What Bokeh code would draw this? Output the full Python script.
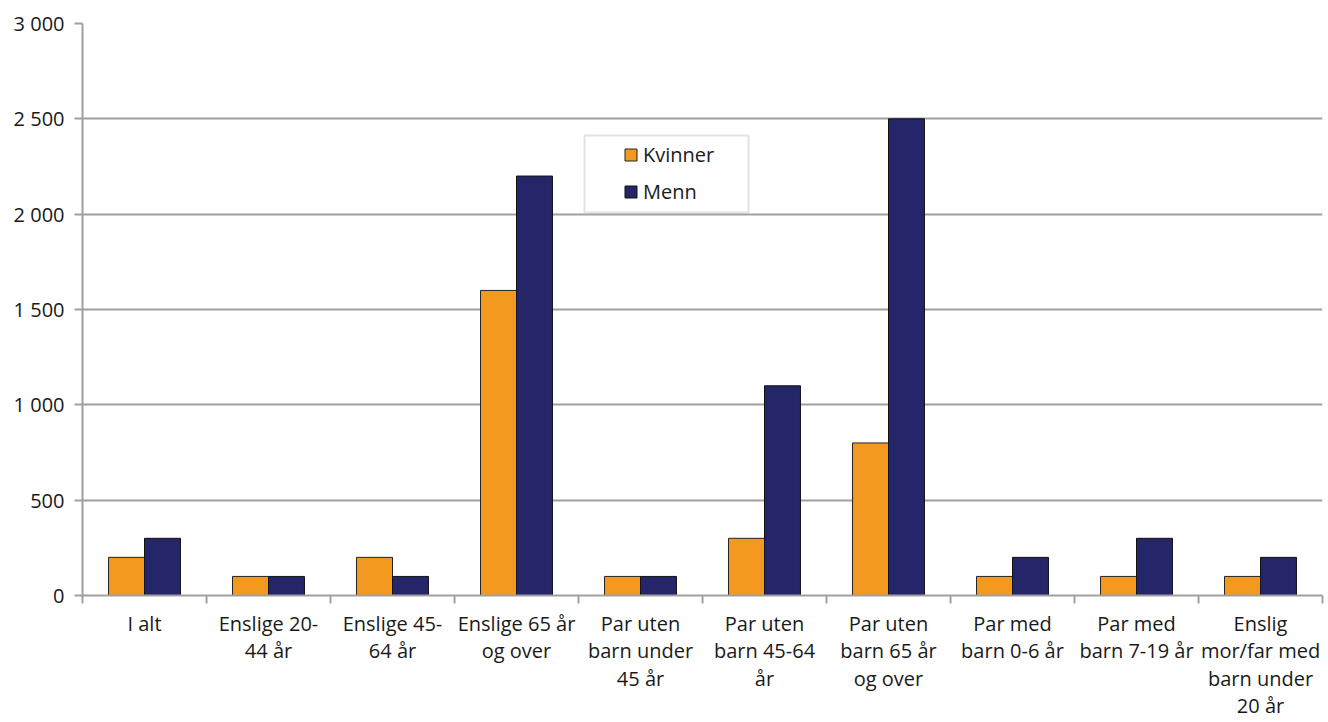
import numpy as np
from bokeh.plotting import figure
from bokeh.models import (Range1d, FixedTicker, Legend, LegendItem,
                          ColumnDataSource, BoxAnnotation)
from bokeh.transform import dodge
from bokeh.embed import file_html
from bokeh.resources import INLINE

# ---- data ----
categories = ["I alt", "Enslige 20-\n44 år", "Enslige 45-\n64 år",
              "Enslige 65 år\nog over", "Par uten\nbarn under\n45 år",
              "Par uten\nbarn 45-64\når", "Par uten\nbarn 65 år\nog over",
              "Par med\nbarn 0-6 år", "Par med\nbarn 7-19 år",
              "Enslig\nmor/far med\nbarn under\n20 år"]
kvinner = [200, 100, 200, 1600, 100, 300, 800, 100, 100, 100]
menn = [300, 100, 100, 2200, 100, 1100, 2500, 200, 300, 200]
series_names = ["Kvinner", "Menn"]
y_ticks = [0, 500, 1000, 1500, 2000, 2500, 3000]
y_tick_labels = ["0", "500", "1 000", "1 500", "2 000", "2 500", "3 000"]

# ---- styles ----
FONT = "Open Sans"
FS = "20px"
TXT = "#1a1a1a"
GRAY = "#a0a0a0"
colors = ["#f4991f", "#25256a"]
bar_w = 0.29

n = len(categories)
centers = np.arange(n) + 0.5
boundaries = list(np.arange(n + 1).astype(float))

src = ColumnDataSource(dict(x=centers, kvinner=kvinner, menn=menn))

p = figure(width=1324, height=722, output_backend="svg", toolbar_location=None,
           x_range=Range1d(0, n), y_range=Range1d(0, 3000),
           min_border_left=82, min_border_right=2, min_border_top=23,
           min_border_bottom=125)
p.outline_line_color = None
p.background_fill_color = "white"

r1 = p.vbar(x=dodge("x", -bar_w / 2), top="kvinner", width=bar_w, source=src,
            fill_color=colors[0], line_color="#222222", line_width=1)
r2 = p.vbar(x=dodge("x", bar_w / 2), top="menn", width=bar_w, source=src,
            fill_color=colors[1], line_color="#111111", line_width=1)

# x axis
xa = p.xaxis[0]
xa.ticker = FixedTicker(ticks=list(centers), minor_ticks=boundaries)
xa.major_label_overrides = {float(c): lab for c, lab in zip(centers, categories)}
xa.major_tick_out = 0
xa.major_tick_in = 0
xa.minor_tick_out = 8
xa.minor_tick_in = 0
xa.minor_tick_line_color = GRAY
xa.minor_tick_line_width = 2
xa.axis_line_color = GRAY
xa.axis_line_width = 2
xa.major_label_text_font = FONT
xa.major_label_text_font_size = FS
xa.major_label_text_color = TXT
xa.major_label_text_line_height = 1.02
xa.major_label_standoff = 6

# y axis
ya = p.yaxis[0]
ya.ticker = FixedTicker(ticks=y_ticks)
ya.major_label_overrides = {t: lab for t, lab in zip(y_ticks, y_tick_labels)}
ya.minor_tick_line_color = None
ya.major_tick_out = 8
ya.major_tick_in = 0
ya.major_tick_line_color = GRAY
ya.major_tick_line_width = 2
ya.axis_line_color = GRAY
ya.axis_line_width = 2
ya.major_label_text_font = FONT
ya.major_label_text_font_size = FS
ya.major_label_text_color = TXT
ya.major_label_standoff = 10

p.xgrid.grid_line_color = None
p.ygrid.ticker = FixedTicker(ticks=y_ticks)
p.ygrid.grid_line_color = GRAY
p.ygrid.grid_line_width = 2

# legend box and legend
box = BoxAnnotation(left=584, right=748, top=135, bottom=212,
                    left_units="canvas", right_units="canvas",
                    top_units="canvas", bottom_units="canvas",
                    fill_color="white", fill_alpha=1.0,
                    line_color=GRAY, line_width=2)
p.add_layout(box)

legend = Legend(items=[LegendItem(label=series_names[0], renderers=[r1]),
                       LegendItem(label=series_names[1], renderers=[r2])],
                location=(541, 390), margin=0, padding=0,
                border_line_color=None, background_fill_alpha=0,
                glyph_width=15, glyph_height=15, label_height=20,
                spacing=10, label_standoff=5,
                label_text_font=FONT, label_text_font_size=FS,
                label_text_color=TXT)
p.add_layout(legend)

open("out.html", "w").write(file_html(p, INLINE))
